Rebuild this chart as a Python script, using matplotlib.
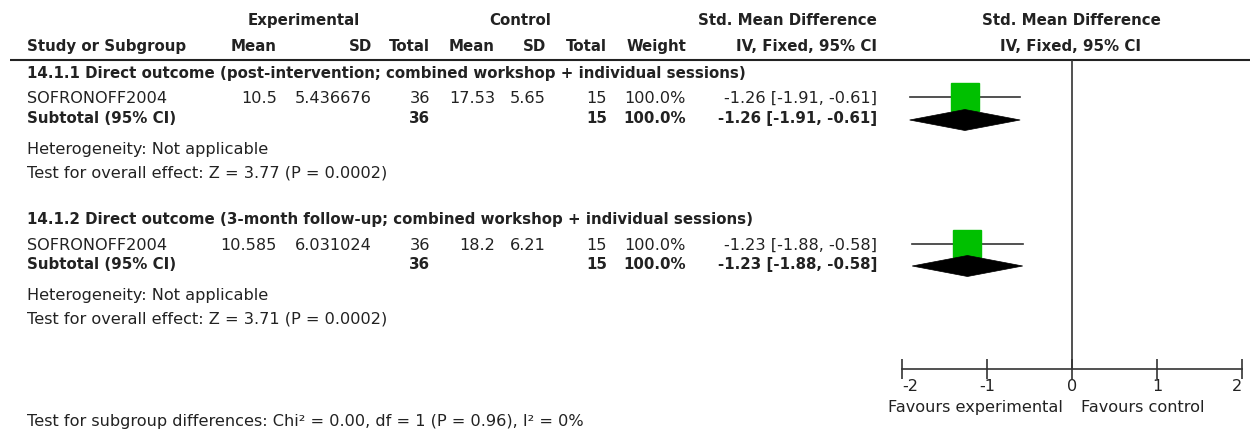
import matplotlib
matplotlib.use("Agg")
import matplotlib.pyplot as plt
from matplotlib.patches import Polygon

# ---------------- data ----------------
subgroup_titles = [
    "14.1.1 Direct outcome (post-intervention; combined workshop + individual sessions)",
    "14.1.2 Direct outcome (3-month follow-up; combined workshop + individual sessions)",
]
study_names = ["SOFRONOFF2004", "SOFRONOFF2004"]
exp_mean = ["10.5", "10.585"]
exp_sd = ["5.436676", "6.031024"]
exp_n = [36, 36]
ctl_mean = ["17.53", "18.2"]
ctl_sd = ["5.65", "6.21"]
ctl_n = [15, 15]
weights = [100.0, 100.0]
smd = [-1.26, -1.23]
ci_lo = [-1.91, -1.88]
ci_hi = [-0.61, -0.58]
z_values = ["3.77", "3.71"]
p_values = ["0.0002", "0.0002"]
heterogeneity = ["Heterogeneity: Not applicable", "Heterogeneity: Not applicable"]
subgroup_diff = "Test for subgroup differences: Chi\u00b2 = 0.00, df = 1 (P = 0.96), I\u00b2 = 0%"
axis_ticks = [-2, -1, 0, 1, 2]
favours_left = "Favours experimental"
favours_right = "Favours control"

# ---------------- style ----------------
W, H = 1250, 430
TXT = "#222222"
GREEN = "#00c000"
FAM = ["DejaVu Sans"]
FS = 11.6
FSB = 10.8

fig = plt.figure(figsize=(W / 100, H / 100), dpi=100)
bg = fig.add_axes([0, 0, 1, 1])
bg.set_xlim(0, W)
bg.set_ylim(H, 0)
bg.axis("off")


def t(x, y, s, ha="left", bold=False, size=None):
    bg.text(x, y, s, ha=ha, va="center_baseline", color=TXT, family=FAM,
            fontsize=size or (FSB if bold else FS),
            fontweight="bold" if bold else "normal")


# column anchors (right edges)
c_emean, c_esd, c_en = 277, 372, 430
c_cmean, c_csd, c_cn = 495, 546, 607
c_w, c_ci = 686, 877
x_left = 27

# headers
t(304, 19, "Experimental", ha="center", bold=True)
t(520, 19, "Control", ha="center", bold=True)
t(c_ci, 19, "Std. Mean Difference", ha="right", bold=True)
t(1071, 19, "Std. Mean Difference", ha="center", bold=True)
y_h = 45
t(x_left, y_h, "Study or Subgroup", bold=True)
t(c_emean, y_h, "Mean", ha="right", bold=True)
t(c_esd, y_h, "SD", ha="right", bold=True)
t(c_en, y_h, "Total", ha="right", bold=True)
t(c_cmean, y_h, "Mean", ha="right", bold=True)
t(c_csd, y_h, "SD", ha="right", bold=True)
t(c_cn, y_h, "Total", ha="right", bold=True)
t(c_w, y_h, "Weight", ha="right", bold=True)
t(c_ci, y_h, "IV, Fixed, 95% CI", ha="right", bold=True)
t(1071, y_h, "IV, Fixed, 95% CI", ha="center", bold=True)
bg.plot([10, W], [60, 60], color=TXT, lw=1.5, solid_capstyle="butt")

# forest axis
ax = fig.add_axes([902 / W, 0, 340 / W, 1])
ax.set_xlim(-2, 2)
ax.set_ylim(H, 0)
ax.patch.set_visible(False)
for s in ["top", "left", "right"]:
    ax.spines[s].set_visible(False)
ax.spines["bottom"].set_position(("data", 369))
ax.spines["bottom"].set_color("#333333")
ax.spines["bottom"].set_linewidth(1.2)
ax.set_yticks([])
ax.set_xticks(axis_ticks)
ax.set_xticklabels([str(v) for v in axis_ticks], family=FAM, fontsize=FS, color=TXT)
ax.tick_params(axis="x", direction="inout", length=14, width=1.2, color="#333333", pad=0)
labs = ax.get_xticklabels()
labs[0].set_horizontalalignment("left")
labs[-1].set_horizontalalignment("right")
ax.vlines(0, 60, 369, color="#333333", lw=1.2)

# rows
title_y = [72, 218]
study_y = [97, 244]
sub_y = [117, 263]
het_y = [148, 294]
test_y = [171, 317]

for i in range(len(study_names)):
    t(x_left, title_y[i], subgroup_titles[i], bold=True)
    ys = study_y[i]
    t(x_left, ys, study_names[i])
    t(c_emean, ys, exp_mean[i], ha="right")
    t(c_esd, ys, exp_sd[i], ha="right")
    t(c_en, ys, str(exp_n[i]), ha="right")
    t(c_cmean, ys, ctl_mean[i], ha="right")
    t(c_csd, ys, ctl_sd[i], ha="right")
    t(c_cn, ys, str(ctl_n[i]), ha="right")
    t(c_w, ys, f"{weights[i]:.1f}%", ha="right")
    ci_txt = f"{smd[i]:.2f} [{ci_lo[i]:.2f}, {ci_hi[i]:.2f}]"
    t(c_ci, ys, ci_txt, ha="right")
    yb = sub_y[i]
    t(x_left, yb, "Subtotal (95% CI)", bold=True)
    t(c_en, yb, str(exp_n[i]), ha="right", bold=True)
    t(c_cn, yb, str(ctl_n[i]), ha="right", bold=True)
    t(c_w, yb, f"{weights[i]:.1f}%", ha="right", bold=True)
    t(c_ci, yb, ci_txt, ha="right", bold=True)
    t(x_left, het_y[i], heterogeneity[i])
    t(x_left, test_y[i], f"Test for overall effect: Z = {z_values[i]} (P = {p_values[i]})")

    # forest marks
    ax.plot([ci_lo[i], ci_hi[i]], [ys, ys], color="#333333", lw=1.2, zorder=2)
    ax.plot([smd[i]], [ys], marker="s", ms=19.5, color=GREEN, mec=GREEN, zorder=3)
    d = Polygon([(ci_lo[i], yb + 3), (smd[i], yb - 7.5), (ci_hi[i], yb + 3), (smd[i], yb + 13.5)],
                closed=True, facecolor="black", edgecolor="black", lw=0.5, zorder=4)
    ax.add_patch(d)

t(1063, 406, favours_left, ha="right")
t(1081, 406, favours_right, ha="left")
t(x_left, 420, subgroup_diff)

fig.savefig("out.png", dpi=100)
